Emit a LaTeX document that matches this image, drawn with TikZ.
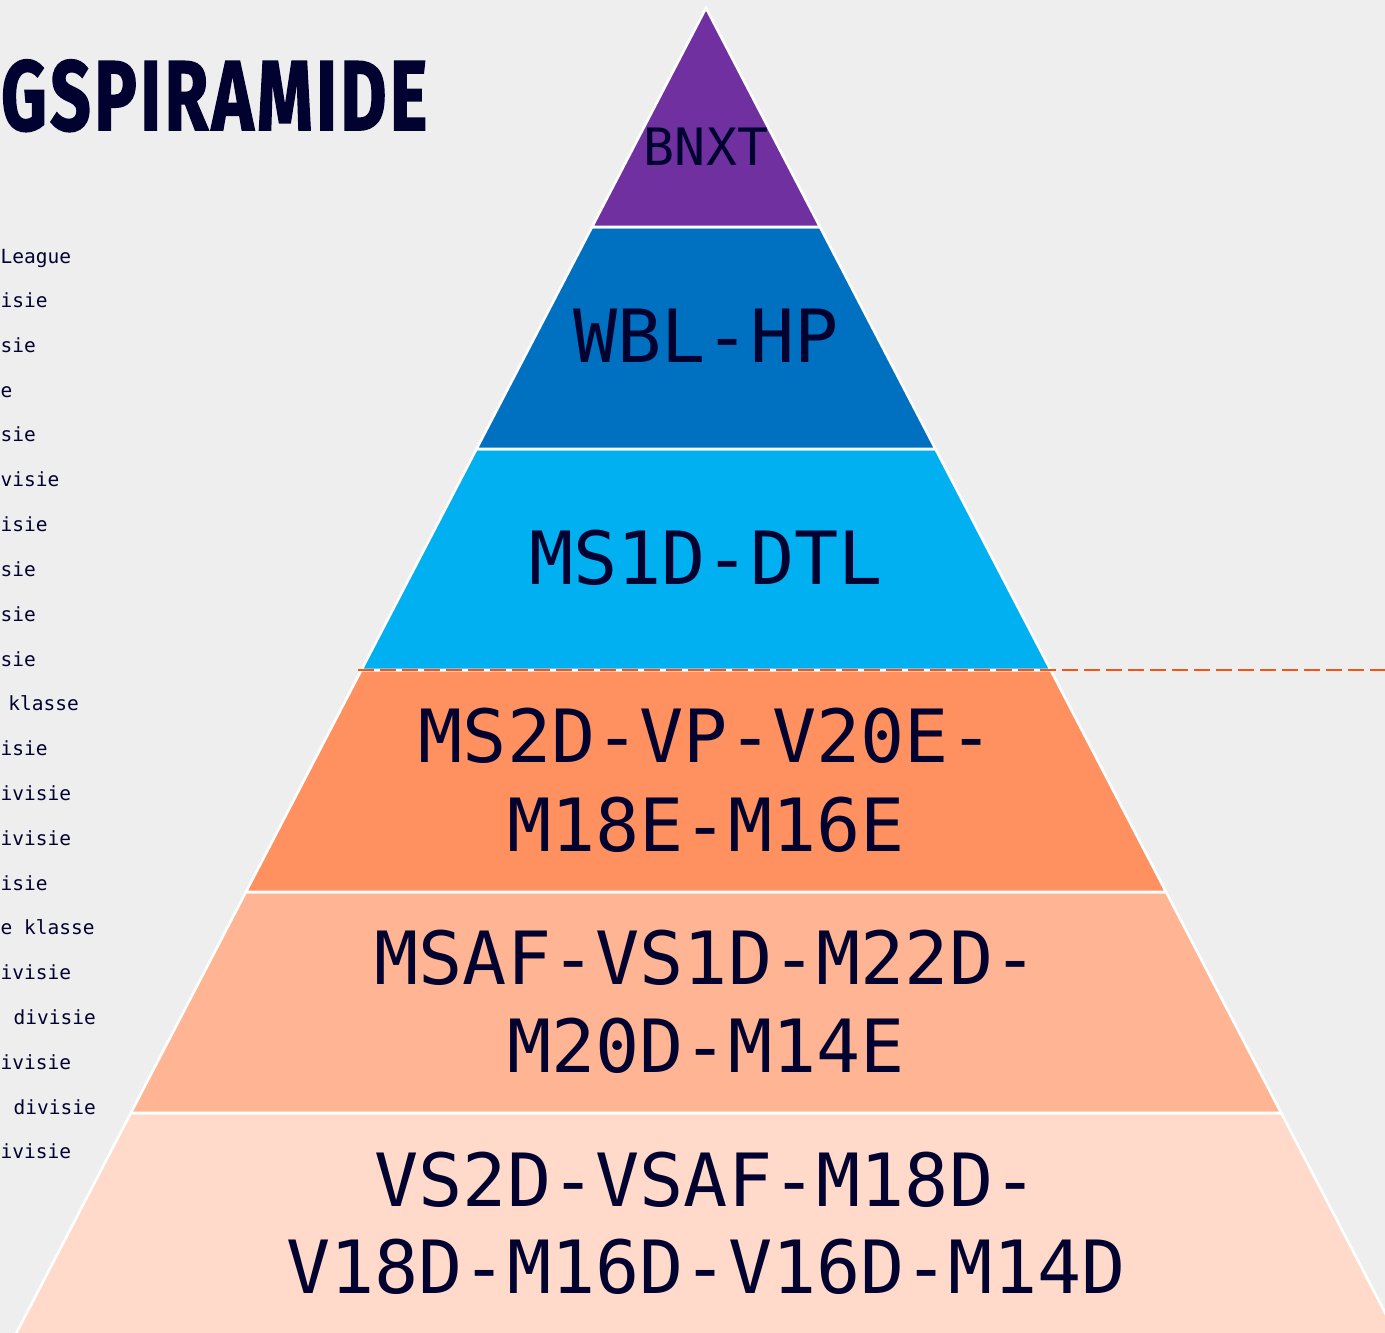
\documentclass[tikz,border=0pt]{standalone}
\usepackage{fontspec}
\usepackage{graphicx}
\newfontfamily\monof{DejaVu Sans Mono}
\newfontfamily\titlef{Fira Sans}[LetterSpace=5, BoldFeatures={FakeBold=1.8}]
\definecolor{bgc}{RGB}{238,238,238}
\definecolor{navy}{RGB}{2,2,48}
\definecolor{cbnxt}{RGB}{112,48,160}
\definecolor{cwbl}{RGB}{0,112,192}
\definecolor{cms1}{RGB}{0,176,240}
\definecolor{cms2}{RGB}{255,145,96}
\definecolor{cmsaf}{RGB}{255,181,148}
\definecolor{cvs2}{RGB}{255,218,203}
\definecolor{dashc}{RGB}{245,85,25}
\tikzset{
  layer/.style={draw=white, line width=2.6pt, line join=miter},
  biglab/.style={anchor=base, inner sep=0pt, text=navy, font=\monof\fontsize{73.4}{80}\selectfont},
  smalllab/.style={anchor=base, inner sep=0pt, text=navy, font=\monof\fontsize{51.5}{56}\selectfont},
  listw/.style={anchor=base west, inner sep=0pt, text=navy, font=\monof\fontsize{19.5}{24}\selectfont},
  liste/.style={anchor=base east, inner sep=0pt, text=navy, font=\monof\fontsize{19.5}{24}\selectfont},
  dashline/.style={draw=dashc, line width=2.6pt, dash pattern=on 16pt off 6pt}
}
\begin{document}
\begin{tikzpicture}[x=1pt,y=-1pt]
\useasboundingbox (0,0) rectangle (1385,1333);
\clip (0,0) rectangle (1385,1333);
\fill[bgc] (0,0) rectangle (1385,1333);
% title
\node[anchor=base west, inner sep=0pt, text=navy, font=\titlef\bfseries\fontsize{99}{99}\selectfont] (title) at (1,130) {\resizebox{426pt}{\height}{GSPIRAMIDE}};
% left list
\node[listw] (t1) at (0.5,263) {League};
\node[listw] (t2) at (0.5,307) {isie};
\node[listw] (t3) at (0.5,352) {sie};
\node[listw] (t4) at (0.5,397) {e};
\node[listw] (t5) at (0.5,441) {sie};
\node[listw] (t6) at (0.5,486) {visie};
\node[listw] (t7) at (0.5,531) {isie};
\node[listw] (t8) at (0.5,576) {sie};
\node[listw] (t9) at (0.5,621) {sie};
\node[listw] (t10) at (0.5,666) {sie};
\node[liste] (t11) at (79,710) {klasse};
\node[listw] (t12) at (0.5,755) {isie};
\node[listw] (t13) at (0.5,800) {ivisie};
\node[listw] (t14) at (0.5,845) {ivisie};
\node[listw] (t15) at (0.5,890) {isie};
\node[listw] (t16) at (0.5,934) {e klasse};
\node[listw] (t17) at (0.5,979) {ivisie};
\node[liste] (t18) at (96,1024) {divisie};
\node[listw] (t19) at (0.5,1069) {ivisie};
\node[liste] (t20) at (96,1114) {divisie};
\node[listw] (t21) at (0.5,1158) {ivisie};
% pyramid layers
\draw[layer, fill=cvs2] (130.8,1113) -- (1281.2,1113) -- (1401.9,1345) -- (10.1,1345) -- cycle;
\draw[layer, fill=cmsaf] (245.9,892) -- (1166.1,892) -- (1281.2,1113) -- (130.8,1113) -- cycle;
\draw[layer, fill=cms2] (361.4,670) -- (1050.6,670) -- (1166.1,892) -- (245.9,892) -- cycle;
\draw[layer, fill=cms1] (476.5,449) -- (935.5,449) -- (1050.6,670) -- (361.4,670) -- cycle;
\draw[layer, fill=cwbl] (592,227) -- (820,227) -- (935.5,449) -- (476.5,449) -- cycle;
\draw[layer, fill=cbnxt] (706,8) -- (820,227) -- (592,227) -- cycle;
% dashed line
\coordinate (dl) at (358,670);
\coordinate (dr) at (1390,670);
\draw[dashline] (dl) -- (dr);
% labels
\node[smalllab] (bnxt) at (706,165) {BNXT};
\node[biglab] (wbl) at (706,362) {WBL-HP};
\node[biglab] (ms1) at (706,584) {MS1D-DTL};
\node[biglab] (ms2a) at (706,762) {MS2D-VP-V20E-};
\node[biglab] (ms2b) at (706,851) {M18E-M16E};
\node[biglab] (msafa) at (706,984) {MSAF-VS1D-M22D-};
\node[biglab] (msafb) at (706,1072) {M20D-M14E};
\node[biglab] (vs2a) at (706,1206) {VS2D-VSAF-M18D-};
\node[biglab] (vs2b) at (706,1293) {V18D-M16D-V16D-M14D};
\end{tikzpicture}
\end{document}
